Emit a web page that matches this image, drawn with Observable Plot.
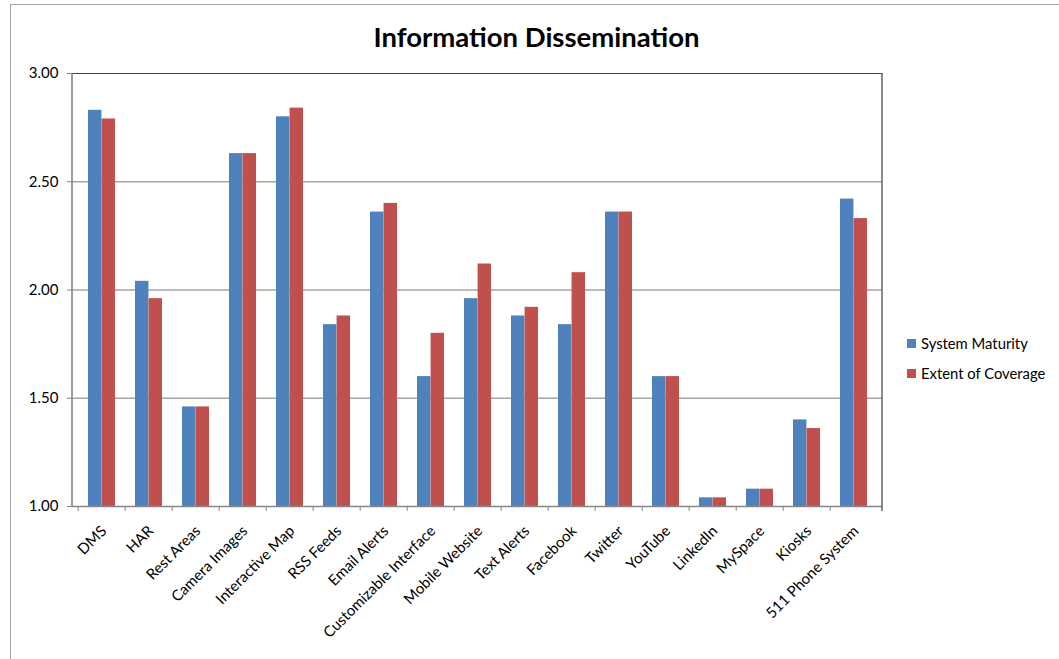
<!DOCTYPE html>
<html><head><meta charset="utf-8">
<script src="https://cdn.jsdelivr.net/npm/d3@7"></script>
<script src="https://cdn.jsdelivr.net/npm/@observablehq/plot@0.6"></script>
<style>
body{margin:0;background:#fff;}
#wrap{position:relative;width:1059px;height:659px;overflow:hidden;font-family:Lato,sans-serif;}
#border{position:absolute;left:10px;top:4px;width:1100px;height:700px;border-left:1px solid #a6a6a6;border-top:1px solid #a6a6a6;pointer-events:none;}
#legend{position:absolute;left:907px;top:328px;font-size:14.8px;color:#000;}
#legend .item{display:flex;align-items:center;height:30px;}
#legend .sw{width:9px;height:9px;margin-right:5px;}
</style>
</head><body>
<div id="wrap"><div id="border"></div><div id="legend"></div></div>
<script>
const categories = ["DMS","HAR","Rest Areas","Camera Images","Interactive Map","RSS Feeds","Email Alerts","Customizable Interface","Mobile Website","Text Alerts","Facebook","Twitter","YouTube","LinkedIn","MySpace","Kiosks","511 Phone System"];
const systemMaturity = [2.83,2.04,1.46,2.63,2.80,1.84,2.36,1.60,1.96,1.88,1.84,2.36,1.60,1.04,1.08,1.40,2.42];
const extentOfCoverage = [2.79,1.96,1.46,2.63,2.84,1.88,2.40,1.80,2.12,1.92,2.08,2.36,1.60,1.04,1.08,1.36,2.33];
const seriesNames = ["System Maturity","Extent of Coverage"];
const seriesColors = ["#4F81BD","#C0504D"];
const yTicks = [1.00,1.50,2.00,2.50,3.00];
const gridValues = [1.50,2.00,2.50];
const title = "Information Dissemination";

const dataA = categories.map((c,i)=>({category:c, series:seriesNames[0], value:systemMaturity[i]}));
const dataB = categories.map((c,i)=>({category:c, series:seriesNames[1], value:extentOfCoverage[i]}));

const W = 1059, H = 659, mL = 72, mR = 177, mT = 73, mB = 153;
const step = (W - mL - mR) / categories.length;
const bandFrac = 0.57;
const half = step * bandFrac / 2;

const plot = Plot.plot({
  width: W, height: H, marginLeft: mL, marginRight: mR, marginTop: mT, marginBottom: mB,
  style: {fontFamily: "Lato, sans-serif", fontSize: "15px", color: "#000", background: "transparent"},
  x: {domain: categories, paddingInner: 1 - bandFrac, paddingOuter: (1 - bandFrac) / 2, label: null},
  y: {domain: [1, 3], label: null},
  color: {domain: seriesNames, range: seriesColors},
  marks: [
    Plot.ruleY(gridValues, {stroke: "#a6a6a6", strokeWidth: 1.3}),
    Plot.barY(dataA, {x: "category", y1: 1, y2: "value", fill: "series", insetRight: half}),
    Plot.barY(dataB, {x: "category", y1: 1, y2: "value", fill: "series", insetLeft: half}),
    Plot.ruleY([3], {stroke: "#404040", strokeWidth: 1.2}),
    Plot.ruleY([1], {stroke: "#868686", strokeWidth: 1.6}),
    Plot.axisY({ticks: yTicks, tickFormat: d3.format(".2f"), tickSize: 5, tickPadding: 9, stroke: "#868686", fontSize: 15, label: null}),
    Plot.axisX({tickSize: 0, tickPadding: 22, tickRotate: -45, fontSize: 15, dx: 2, label: null}),
    Plot.axisX({text: null, tickSize: 5, dx: -step / 2, stroke: "#868686", label: null}),
    Plot.text([title], {frameAnchor: "top", dx: 59, dy: -27, lineAnchor: "bottom", fontWeight: "bold", fontSize: 27.5, fill: "#000"})
  ]
});

const svg = d3.select(plot);
const [x0, x1] = plot.scale("x").range;
const [yb, yt] = plot.scale("y").range;
svg.append("line").attr("x1", x0).attr("x2", x0).attr("y1", yt).attr("y2", yb + 1).attr("stroke", "#868686").attr("stroke-width", 1.6);
svg.append("line").attr("x1", x1).attr("x2", x1).attr("y1", yt).attr("y2", yb + 5).attr("stroke", "#595959").attr("stroke-width", 1.4);

const wrap = document.getElementById("wrap");
wrap.insertBefore(plot, wrap.firstChild);
const legend = d3.select("#legend");
seriesNames.forEach((s, i) => {
  const it = legend.append("div").attr("class", "item");
  it.append("div").attr("class", "sw").style("background", seriesColors[i]);
  it.append("span").text(s);
});
</script>
</body></html>
